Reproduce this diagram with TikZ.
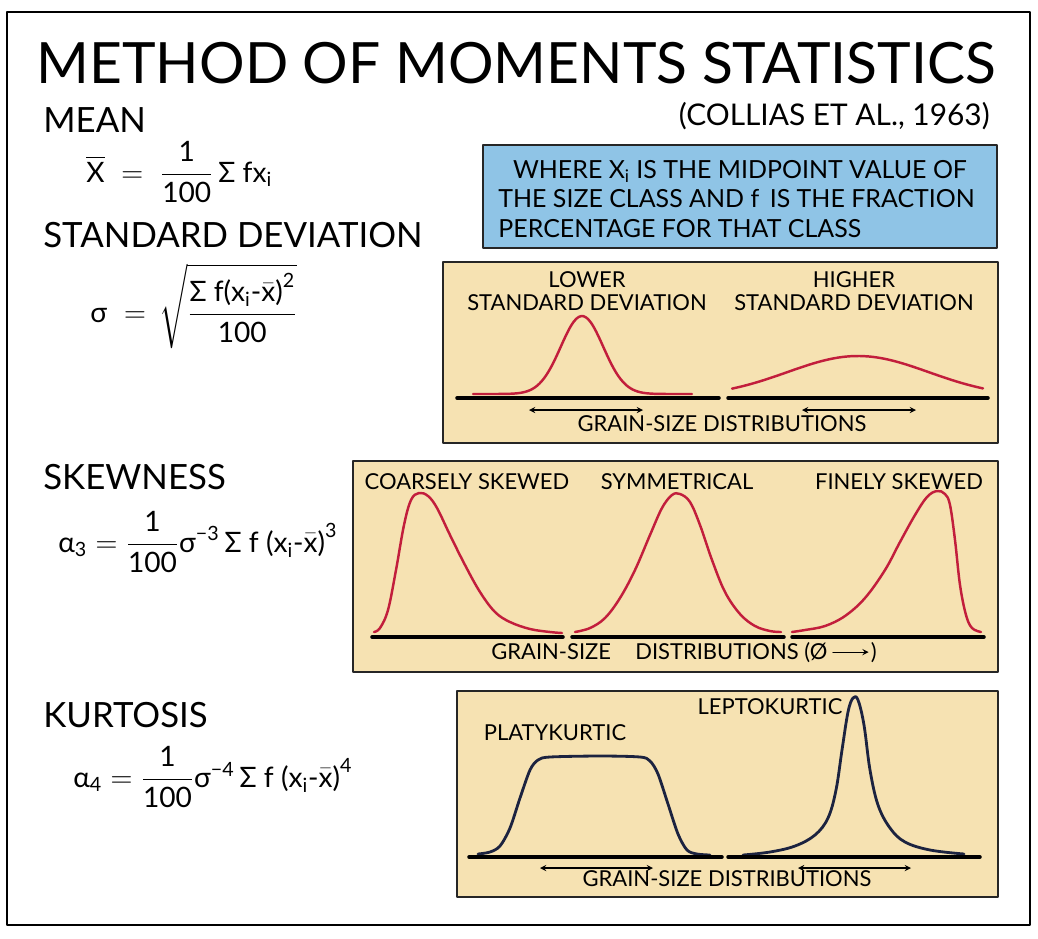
\documentclass[tikz,border=0pt]{standalone}
\usepackage{amsmath,amssymb}
\usepackage{fontspec}
\setmainfont{Lato}
\definecolor{panelfill}{HTML}{F6E2B2}
\definecolor{notefill}{HTML}{8FC4E6}
\definecolor{curvered}{HTML}{C21E3C}
\definecolor{curvenavy}{HTML}{1C2340}
\newcommand{\tx}[1]{\text{#1}}

\begin{document}
\begin{tikzpicture}[x=0.02cm,y=-0.02cm,>=stealth,line join=round,line cap=round,
	box/.style={draw=black!85,line width=1.1pt},
	lbl/.style={font=\fontsize{12.5}{14}\selectfont,inner sep=0pt,anchor=base},
	sect/.style={font=\fontsize{19.8}{22}\selectfont,inner sep=0pt,anchor=base west},
	frm/.style={font=\fontsize{16}{19}\selectfont,inner sep=0pt,anchor=base west},
	notetxt/.style={font=\fontsize{14.2}{17}\selectfont,inner sep=0pt},
	redc/.style={curvered,line width=1.4pt},
	navyc/.style={curvenavy,line width=1.6pt},
	axisline/.style={line width=2pt},
	dbl/.style={<->,line width=0.6pt}]
	\useasboundingbox (0,0) rectangle (1038,938);
	\draw[line width=1.4pt] (7,12) rectangle (1030,925);

	% title
	\node[font=\fontsize{32.4}{36}\selectfont,inner sep=0pt,anchor=base] (title) at (516,83) {METHOD OF MOMENTS STATISTICS};
	\node[font=\fontsize{17}{20}\selectfont,inner sep=0pt,anchor=base east] (cite) at (990,125) {(COLLIAS ET AL., 1963)};

	% formulas
	\node[sect] (mean) at (43,132) {MEAN};
	\node[frm] (meanf) at (86,182) {$\overline{\tx{X}}\;=\;\dfrac{\tx{1}}{\tx{100}}\,\tx{Σ fx}_{\tx{i}}$};
	\node[sect] (sd) at (43,247) {STANDARD DEVIATION};
	\node[frm] (sdf) at (90,322) {$\tx{σ}\;=\,\sqrt{\dfrac{\tx{Σ f(x}_{\tx{i}}\tx{-}\bar{\tx{x}}\tx{)}^{\tx{2}}}{\tx{100}}}$};
	\node[sect] (skew) at (43,489) {SKEWNESS};
	\node[frm] (skewf) at (58,552) {$\tx{α}_{\tx{3}}=\dfrac{\tx{1}}{\tx{100}}\tx{σ}^{\tx{−3}}\,\tx{Σ f (x}_{\tx{i}}\tx{-}\bar{\tx{x}}\tx{)}^{\tx{3}}$};
	\node[sect] (kurt) at (43,727) {KURTOSIS};
	\node[frm] (kurtf) at (73,787) {$\tx{α}_{\tx{4}}=\dfrac{\tx{1}}{\tx{100}}\tx{σ}^{\tx{−4}}\,\tx{Σ f (x}_{\tx{i}}\tx{-}\bar{\tx{x}}\tx{)}^{\tx{4}}$};

	% note
	\draw[box,fill=notefill] (483,145) rectangle (997,248);
	\node[notetxt,anchor=base] (note1) at (740,178) {WHERE X$_{\tx{i}}$ IS THE MIDPOINT VALUE OF};
	\node[notetxt,anchor=base west] (note2) at (498,207) {THE SIZE CLASS AND f\, IS THE FRACTION};
	\node[notetxt,anchor=base west] (note3) at (498,237) {PERCENTAGE FOR THAT CLASS};

	% standard deviation
	\draw[box,fill=panelfill] (443,262) rectangle (998,443);
	\node[lbl] (lo1) at (587,287) {LOWER};
	\node[lbl] (lo2) at (587,310) {STANDARD DEVIATION};
	\node[lbl] (hi1) at (854,287) {HIGHER};
	\node[lbl] (hi2) at (854,310) {STANDARD DEVIATION};
	\draw[redc] plot[domain=473:692,samples=90,smooth] (\x,{394-78*exp(-(((\x-582)/30)^2))});
	\draw[redc] plot[domain=732:983,samples=60,smooth] (\x,{397-41*exp(-(((\x-858)/100)^2))});
	\draw[axisline] (457,398) -- (719,398);
	\draw[axisline] (728,398) -- (988,398);
	\coordinate (sa1) at (529,410); \coordinate (sb1) at (643,410);
	\coordinate (sa2) at (802,410); \coordinate (sb2) at (916,410);
	\draw[dbl] (sa1) -- (sb1);
	\draw[dbl] (sa2) -- (sb2);
	\node[lbl] (sdgs) at (722,431) {GRAIN-SIZE DISTRIBUTIONS};

	% skewness
	\draw[box,fill=panelfill] (353,461) rectangle (998,672);
	\node[lbl] (coarse) at (467,489) {COARSELY SKEWED};
	\node[lbl] (sym) at (677,489) {SYMMETRICAL};
	\node[lbl] (fine) at (899,489) {FINELY SKEWED};
	\draw[redc] plot[smooth,tension=0.6] coordinates {(374,632) (380,628) (388,610) (396,570) (404,525) (411,500) (419,493) (428,496) (437,508) (450,535) (465,565) (480,592) (495,612) (510,622) (530,629) (550,632) (562,633)};
	\draw[redc] plot[smooth,tension=0.6] coordinates {(575,632) (590,628) (605,618) (620,598) (635,570) (650,535) (662,508) (672,495) (680,494) (690,502) (700,525) (712,560) (725,592) (740,614) (755,626) (770,631) (781,632)};
	\draw[redc] plot[smooth,tension=0.6] coordinates {(792,632) (805,630) (825,626) (845,616) (865,598) (885,570) (900,542) (915,515) (927,497) (937,491) (945,494) (950,505) (955,540) (960,585) (966,615) (972,628) (981,632)};
	\draw[axisline] (372,637) -- (563,637);
	\draw[axisline] (572,637) -- (784,637);
	\draw[axisline] (792,637) -- (984,637);
	\node[lbl,anchor=base west] (skgs) at (491,659) {GRAIN-SIZE\hspace{1.1em}DISTRIBUTIONS (Ø};
	\node[lbl,anchor=base east] (skpar) at (877,659) {)};
	\draw[->,line width=0.6pt] ([xshift=3pt]skgs.east) -- ([xshift=-1pt]skpar.west);

	% kurtosis
	\draw[box,fill=panelfill] (457,691) rectangle (998,897);
	\node[lbl] (platy) at (555,740) {PLATYKURTIC};
	\node[lbl] (lepto) at (770,714) {LEPTOKURTIC};
	\draw[navyc] plot[smooth,tension=0.5] coordinates {(478,854) (490,852) (500,846) (510,828) (520,798) (530,770) (538,760) (550,757) (600,756) (640,757) (650,761) (658,774) (668,804) (678,834) (687,850) (697,854) (710,855)};
	\draw[navyc] plot[smooth,tension=0.6] coordinates {(743,855) (770,852) (795,846) (815,835) (828,818) (836,790) (842,750) (848,712) (853,698) (858,700) (864,725) (870,770) (878,805) (890,828) (905,842) (930,850) (964,854)};
	\draw[axisline] (469,857) -- (722,857);
	\draw[axisline] (728,857) -- (980,857);
	\coordinate (ka1) at (540,868); \coordinate (kb1) at (653,868);
	\coordinate (ka2) at (798,868); \coordinate (kb2) at (911,868);
	\draw[dbl] (ka1) -- (kb1);
	\draw[dbl] (ka2) -- (kb2);
	\node[lbl] (kugs) at (727,886) {GRAIN-SIZE DISTRIBUTIONS};
\end{tikzpicture}
\end{document}
